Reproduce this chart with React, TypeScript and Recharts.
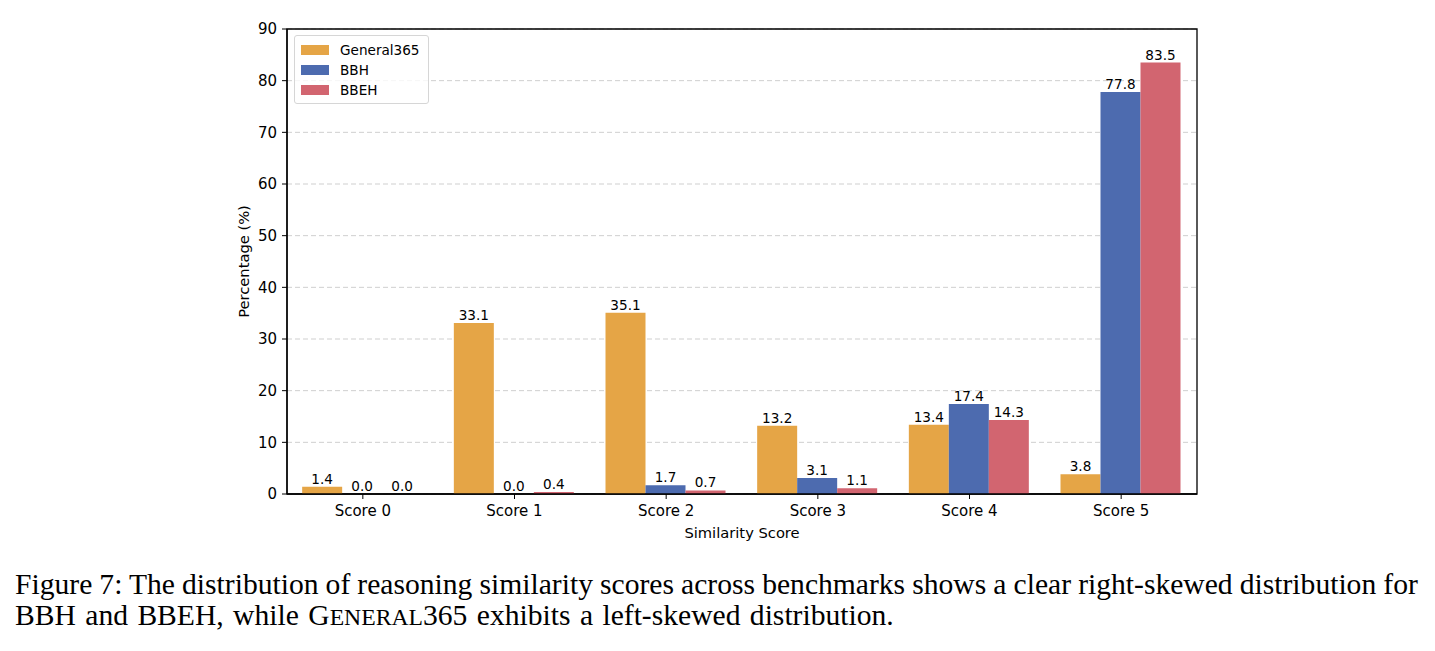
import React from 'react';
import { BarChart, Bar, XAxis, YAxis, CartesianGrid, LabelList, ReferenceArea } from 'recharts';

const categories = ['Score 0', 'Score 1', 'Score 2', 'Score 3', 'Score 4', 'Score 5'];
const general365 = [1.4, 33.1, 35.1, 13.2, 13.4, 3.8];
const bbh = [0.0, 0.0, 1.7, 3.1, 17.4, 77.8];
const bbeh = [0.0, 0.4, 0.7, 1.1, 14.3, 83.5];
const yTicks = [0, 10, 20, 30, 40, 50, 60, 70, 80, 90];

const seriesInfo = [
  { key: 'general365', name: 'General365', color: '#E5A546' },
  { key: 'bbh', name: 'BBH', color: '#4D6BAF' },
  { key: 'bbeh', name: 'BBEH', color: '#D26570' },
];

const data = categories.map((c, i) => ({
  category: c,
  general365: general365[i],
  bbh: bbh[i],
  bbeh: bbeh[i],
}));

const FONT = 'DejaVu Sans, sans-serif';

const LegendBox = () => (
  <div
    style={{
      position: 'absolute',
      left: 294,
      top: 35,
      border: '1px solid #d6d6d6',
      borderRadius: 3,
      background: 'rgba(255,255,255,0.8)',
      padding: '4px 8px 3px 6px',
      fontFamily: FONT,
      fontSize: 13.6,
      color: '#000',
    }}
  >
    {seriesInfo.map((s) => (
      <div key={s.key} style={{ display: 'flex', alignItems: 'center', height: 20 }}>
        <span style={{ display: 'inline-block', width: 28, height: 10, background: s.color, marginRight: 11 }} />
        <span>{s.name}</span>
      </div>
    ))}
  </div>
);

export default function App() {
  return (
    <div style={{ position: 'absolute', left: 0, top: 0, width: 1435, height: 651, background: '#fff' }}>
      <BarChart
        width={1435}
        height={560}
        data={data}
        margin={{ top: 29, right: 238, bottom: 16, left: 237 }}
        barCategoryGap="10%"
        barGap={0}
      >
        <CartesianGrid vertical={false} stroke="#cfcfcf" strokeDasharray="5 3" />
        <XAxis
          dataKey="category"
          tick={{ fontFamily: FONT, fontSize: 15, fill: '#000' }}
          tickLine={{ stroke: '#000' }}
          axisLine={{ stroke: '#000', strokeWidth: 1.3 }}
          tickSize={5}
          tickMargin={6}
          height={50}
          label={{
            content: (p: any) => (
              <text
                x={p.viewBox.x + p.viewBox.width / 2}
                y={p.viewBox.y + 38}
                textAnchor="middle"
                dominantBaseline="central"
                fontFamily={FONT}
                fontSize={14.7}
                fill="#000"
              >
                Similarity Score
              </text>
            ),
          }}
        />
        <YAxis
          domain={[0, 90]}
          ticks={yTicks}
          width={50}
          tick={{ fontFamily: FONT, fontSize: 15, fill: '#000' }}
          tickLine={{ stroke: '#000' }}
          axisLine={{ stroke: '#000', strokeWidth: 1.3 }}
          tickSize={5}
          tickMargin={5}
          label={{
            content: (p: any) => {
              const cx = p.viewBox.x + 6;
              const cy = p.viewBox.y + p.viewBox.height / 2;
              return (
                <text
                  x={cx}
                  y={cy}
                  transform={`rotate(-90, ${cx}, ${cy})`}
                  textAnchor="middle"
                  dominantBaseline="central"
                  fontFamily={FONT}
                  fontSize={14.7}
                  fill="#000"
                >
                  Percentage (%)
                </text>
              );
            },
          }}
        />
        {seriesInfo.map((s) => (
          <Bar key={s.key} dataKey={s.key} name={s.name} fill={s.color} minPointSize={0.01} isAnimationActive={false}>
            <LabelList
              dataKey={s.key}
              position="top"
              offset={3}
              formatter={(v: any) => Number(v).toFixed(1)}
              style={{ fontFamily: FONT, fontSize: 13.6, fill: '#000' }}
            />
          </Bar>
        ))}
        {/* frame around the plot area (full box spines) */}
        <ReferenceArea y1={0} y2={90} fill="none" stroke="#000" strokeWidth={1.3} ifOverflow="visible" />
      </BarChart>
      <LegendBox />
      <div
        style={{
          position: 'absolute',
          left: 15,
          top: 569,
          width: 1420,
          fontFamily: '"Liberation Serif", "Times New Roman", serif',
          fontSize: 29.6,
          lineHeight: '31px',
          color: '#000',
          whiteSpace: 'nowrap',
        }}
      >
        <div style={{ wordSpacing: -0.3 }}>
          Figure 7: The distribution of reasoning similarity scores across benchmarks shows a clear right-skewed distribution for
        </div>
        <div style={{ wordSpacing: 2 }}>
          BBH and BBEH, while G<span style={{ fontSize: '0.8em' }}>ENERAL</span>365 exhibits a left-skewed distribution.
        </div>
      </div>
    </div>
  );
}
